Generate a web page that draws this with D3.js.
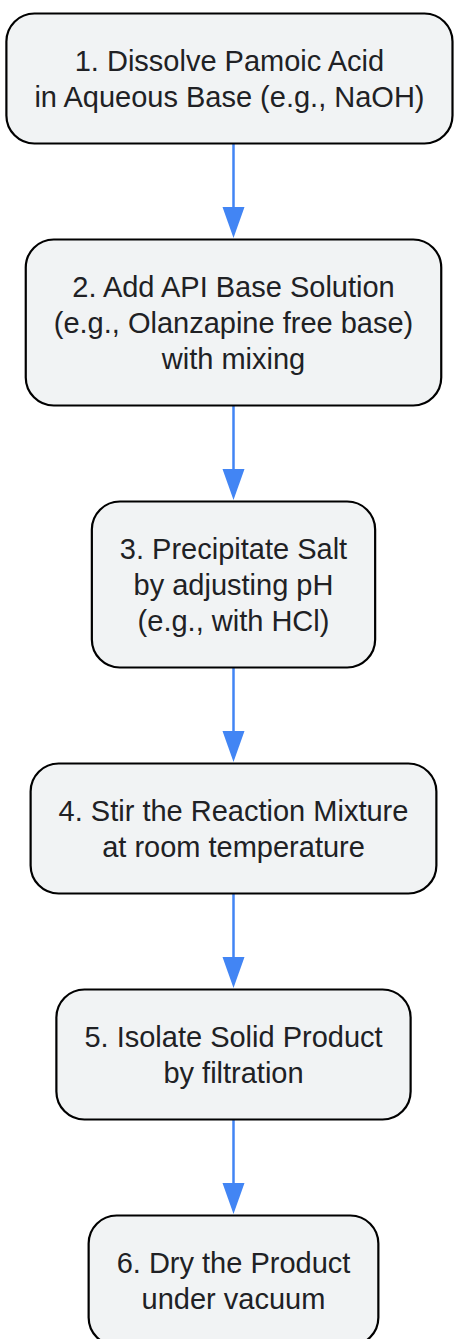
<!DOCTYPE html>
<meta charset="utf-8">
<title>Pamoate Salt Process</title>
<style>
  body { margin: 0; background: #fff; }
  .node rect { fill: #f1f3f4; stroke: #000; stroke-width: 2.2; }
  .node text { font-family: "Liberation Sans", Arial, sans-serif; font-size: 29px; fill: #202124; }
  .link { stroke: #4285f4; stroke-width: 2.5; fill: none; }
</style>
<body>
<script src="https://cdn.jsdelivr.net/npm/d3@7"></script>
<script>
  // steps of the process, one entry per box, lines of label text
  var steps = [
    ["1. Dissolve Pamoic Acid", "in Aqueous Base (e.g., NaOH)"],
    ["2. Add API Base Solution", "(e.g., Olanzapine free base)", "with mixing"],
    ["3. Precipitate Salt", "by adjusting pH", "(e.g., with HCl)"],
    ["4. Stir the Reaction Mixture", "at room temperature"],
    ["5. Isolate Solid Product", "by filtration"],
    ["6. Dry the Product", "under vacuum"]
  ];
  var links = [[0, 1], [1, 2], [2, 3], [3, 4], [4, 5]];

  var width = 454, height = 1339;
  var cx = 233.5, top0 = 13.5, lineH = 36, padY = 58, padX = 28, gap = 96, radius = 28;

  var svg = d3.select("body").append("svg")
    .attr("width", width)
    .attr("height", height);

  // measure text to size the boxes
  var measure = svg.append("text")
    .style("font-family", "Liberation Sans, Arial, sans-serif").style("font-size", "29px");
  function textW(s) { measure.text(s); return measure.node().getComputedTextLength(); }

  var nodes = [], y = top0;
  steps.forEach(function(lines, i) {
    var w = d3.max(lines, textW) + 2 * padX;
    var h = lines.length * lineH + padY;
    // keep the widest box inside the page
    var x = Math.min(cx - w / 2, width - 1.5 - w);
    nodes.push({ lines: lines, x: x, y: y, w: w, h: h });
    y += h + gap;
  });
  measure.remove();

  // links
  svg.append("g").selectAll(".link")
    .data(links)
    .enter().append("line")
    .attr("class", "link")
    .attr("x1", cx).attr("x2", cx)
    .attr("y1", function(d) { var s = nodes[d[0]]; return s.y + s.h; })
    .attr("y2", function(d) { return nodes[d[1]].y - 20; });

  // arrow heads
  svg.append("g").selectAll("path")
    .data(links)
    .enter().append("path")
    .attr("fill", "#4285f4")
    .attr("d", function(d) {
      var t = nodes[d[1]].y - 1.5;
      return "M" + (cx - 11) + "," + (t - 31) + "L" + (cx + 11) + "," + (t - 31) + "L" + cx + "," + t + "Z";
    });

  // nodes
  var node = svg.append("g").selectAll(".node")
    .data(nodes)
    .enter().append("g")
    .attr("class", "node")
    .attr("transform", function(d) { return "translate(" + d.x + "," + d.y + ")"; });

  node.append("rect")
    .attr("width", function(d) { return d.w; })
    .attr("height", function(d) { return d.h; })
    .attr("rx", radius).attr("ry", radius);

  node.each(function(d) {
    var g = d3.select(this), n = d.lines.length;
    g.selectAll("text")
      .data(d.lines)
      .enter().append("text")
      .attr("x", d.w / 2)
      .attr("y", function(s, i) { return d.h / 2 + (i - (n - 1) / 2) * lineH + 10; })
      .attr("text-anchor", "middle")
      .text(function(s) { return s; });
  });
</script>
</body>
